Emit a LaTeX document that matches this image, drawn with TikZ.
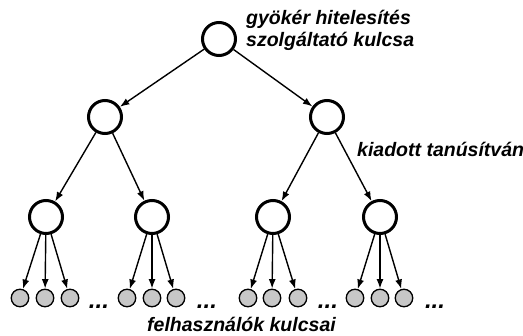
\documentclass[tikz,border=0pt]{standalone}
\usepackage{fontspec}
\setmainfont{Liberation Sans}
\usetikzlibrary{arrows.meta}
\begin{document}
\begin{tikzpicture}[x=1pt,y=-1pt,
  keynode/.style={circle,draw=black,line width=3pt,fill=white,minimum size=33pt,inner sep=0pt},
  userkey/.style={circle,draw=black,line width=1.3pt,fill=black!22,minimum size=17.5pt,inner sep=0pt},
  certarrow/.style={line width=1.4pt,-{Latex[length=9.5pt,width=7pt]}},
  lbl/.style={font=\fontsize{19.5}{21.5}\selectfont\bfseries\itshape,inner sep=0pt,anchor=base west},
  moredots/.style={font=\fontsize{24}{24}\selectfont\bfseries\itshape,inner sep=0pt,anchor=base}]
\useasboundingbox (0,0) rectangle (523,336);

% tree of keys
\node[keynode] (root) at (219,39) {};
\node[keynode] (a) at (105,117) {};
\node[keynode] (b) at (327,117) {};
\node[keynode] (a1) at (46,217) {};
\node[keynode] (a2) at (152,217) {};
\node[keynode] (b1) at (273,217) {};
\node[keynode] (b2) at (380,217) {};

% user keys
\foreach \p/\x in {a1/20,a1/45,a1/70,a2/127,a2/152,a2/176,b1/248,b1/272,b1/298,b2/355,b2/380,b2/404}{
  \node[userkey] (u\x) at (\x,298) {};
  \draw[certarrow] (\p) -- (u\x);
}

\draw[certarrow] (root) -- (a);
\draw[certarrow] (root) -- (b);
\draw[certarrow] (a) -- (a1);
\draw[certarrow] (a) -- (a2);
\draw[certarrow] (b) -- (b1);
\draw[certarrow] (b) -- (b2);

% continuation marks
\node[moredots] (d1) at (99,309) {...};
\node[moredots] (d2) at (207,309) {...};
\node[moredots] (d3) at (328,309) {...};
\node[moredots] (d4) at (435,309) {...};

% labels
\node[lbl] (rootlbl1) at (246,25) {gyökér hitelesítés};
\node[lbl] (rootlbl2) at (246,46.5) {szolgáltató kulcsa};
\node[lbl] (certlbl) at (357,157) {kiadott tanúsítvány};
\node[lbl] (userlbl) at (147,332) {felhasználók kulcsai};
\end{tikzpicture}
\end{document}
